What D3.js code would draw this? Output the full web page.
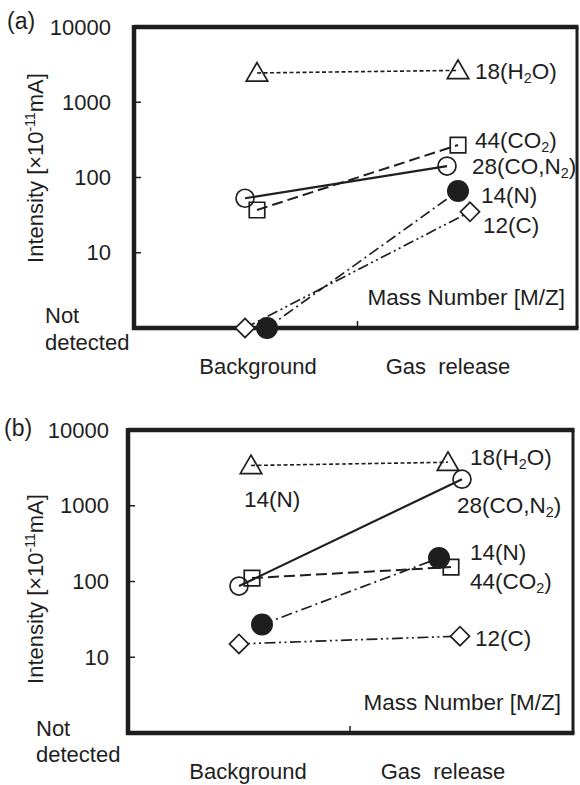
<!DOCTYPE html>
<html>
<head>
<meta charset="utf-8">
<script src="https://cdn.jsdelivr.net/npm/d3@7"></script>
<style>
  html, body { margin: 0; padding: 0; background: #fff; }
  svg { display: block; font-family: "Liberation Sans", Arial, Helvetica, sans-serif; }
  text { fill: #1e1e1e; }
</style>
</head>
<body>
<svg id="chart" width="580" height="785"></svg>
<script>
// ---------------- data ----------------
const categories = ["Background", "Gas  release"];
const yTicks = [10, 100, 1000, 10000];
const notDetected = 1; // values of 1 mean "Not detected" (bottom of the axis)

// Panel (a)
const aH2O = [2450, 2650];
const aCO  = [53, 142];
const aCO2 = [37, 270];
const aN   = [1, 66];
const aC   = [1, 35];

// Panel (b)
const bH2O = [3400, 3750];
const bCO  = [87, 2240];
const bCO2 = [111, 155];
const bN   = [27, 204];
const bC   = [15, 19];

// series order: H2O, CO/N2, CO2, N, C
const seriesLabels = [
  [["18(H", 0], ["2", 1], ["O)", 0]],
  [["28(CO,N", 0], ["2", 1], [")", 0]],
  [["44(CO", 0], ["2", 1], [")", 0]],
  [["14(N)", 0]],
  [["12(C)", 0]]
];

// ---------------- styles ----------------
const ink = "#1e1e1e";
const seriesStyle = [
  { symbol: "triangle", dash: "4,2.5", width: 1.6 },
  { symbol: "circle",   dash: null,     width: 2.2 },
  { symbol: "square",   dash: "11,5",   width: 2.0 },
  { symbol: "dot",      dash: "11,4,2,4", width: 1.7 },
  { symbol: "diamond",  dash: "11,3.5,2,3.5,2,3.5", width: 1.7 }
];

const panels = [
  {
    tag: "(a)", tagX: 7, tagY: 21,
    left: 134, right: 577, top: 27, bottom: 328,
    xRange: [257, 458],
    values: [aH2O, aCO, aCO2, aN, aC],
    nudge: [[0, 0], [-12, -11], [0, 0], [10, 0], [-12, 12]],
    labelOff: [[17, 0], [25, 0], [17, -5], [23, 4], [13, 13]],
    extra: null,
    tickLabelX: 111, titleY: 168,
    catDx: [1, -10],
    ndX: 45, ndY: [315, 342]
  },
  {
    tag: "(b)", tagX: 4, tagY: 428,
    left: 128, right: 573, top: 430, bottom: 733,
    xRange: [250, 450],
    values: [bH2O, bCO, bCO2, bN, bC],
    nudge: [[1, -2], [-11, 12], [2, 1], [12, -11], [-11, 10]],
    labelOff: [[22, -5], [-5, 26], [19, 14], [31, -6], [15, 2]],
    extra: { series: 0, cat: 0, dx: -7, dy: 33 },
    tickLabelX: 109, titleY: 589,
    catDx: [-2, -7],
    ndX: 36, ndY: [728, 754]
  }
];

const svg = d3.select("#chart");

function symbolPath(kind) {
  switch (kind) {
    case "triangle": return d3.symbol(d3.symbolTriangle, 200)();
    case "circle":   return d3.symbol(d3.symbolCircle, Math.PI * 9 * 9)();
    case "square":   return d3.symbol(d3.symbolSquare, 15.5 * 15.5)();
    case "dot":      return d3.symbol(d3.symbolCircle, Math.PI * 11 * 11)();
    case "diamond":  return d3.symbol(d3.symbolSquare, 13.5 * 13.5)();
  }
}

function addRichText(g, x, y, parts, size) {
  const t = g.append("text")
    .attr("x", x).attr("y", y)
    .attr("dy", "0.36em")
    .attr("font-size", size);
  let shifted = false;
  parts.forEach(([s, sub]) => {
    const ts = t.append("tspan").text(s);
    if (sub) { ts.attr("font-size", size * 0.64).attr("dy", 4); shifted = true; }
    else if (shifted) { ts.attr("dy", -4); shifted = false; }
  });
  return t;
}

panels.forEach(p => {
  const g = svg.append("g");
  const y = d3.scaleLog().domain([notDetected, 10000]).range([p.bottom, p.top]);
  const x = d3.scalePoint().domain(categories).range(p.xRange);

  // left axis ticks and labels
  const yAxis = d3.axisLeft(y).tickValues(yTicks).tickSize(0).tickFormat(d3.format("d"));
  const ax = g.append("g").attr("transform", `translate(${p.left},0)`).call(yAxis);
  ax.select(".domain").remove();
  ax.selectAll("text")
    .attr("x", p.tickLabelX - p.left)
    .attr("font-size", 22)
    .attr("font-family", "Liberation Sans, Arial, sans-serif")
    .attr("fill", ink);
  ax.selectAll(".tick line").remove();
  g.selectAll(".ytick").data(yTicks.filter(v => v < 10000)).enter().append("line")
    .attr("x1", p.left).attr("x2", p.left + 7)
    .attr("y1", d => y(d)).attr("y2", d => y(d))
    .attr("stroke", ink).attr("stroke-width", 1.5);

  // bottom middle tick
  const xm = (x(categories[0]) + x(categories[1])) / 2;
  g.append("line")
    .attr("x1", xm).attr("x2", xm)
    .attr("y1", p.bottom).attr("y2", p.bottom - 7)
    .attr("stroke", ink).attr("stroke-width", 1.5);

  // series lines
  const line = d3.line().x(d => d[0]).y(d => d[1]);
  p.values.forEach((vals, si) => {
    const pts = vals.map((v, ci) => [x(categories[ci]) + p.nudge[si][ci], y(v)]);
    const st = seriesStyle[si];
    g.append("path")
      .attr("d", line(pts))
      .attr("fill", "none")
      .attr("stroke", ink)
      .attr("stroke-width", st.width)
      .attr("stroke-dasharray", st.dash);
  });

  // frame
  g.append("line").attr("x1", p.left).attr("x2", p.right + 1.5).attr("y1", p.top).attr("y2", p.top)
    .attr("stroke", ink).attr("stroke-width", 4.5);
  g.append("line").attr("x1", p.left).attr("x2", p.left).attr("y1", p.top - 2).attr("y2", p.bottom + 2)
    .attr("stroke", ink).attr("stroke-width", 4.5);
  g.append("line").attr("x1", p.left - 2).attr("x2", p.right + 1.5).attr("y1", p.bottom).attr("y2", p.bottom)
    .attr("stroke", ink).attr("stroke-width", 4.5);
  g.append("line").attr("x1", p.right).attr("x2", p.right).attr("y1", p.top).attr("y2", p.bottom)
    .attr("stroke", ink).attr("stroke-width", 3);

  // markers
  p.values.forEach((vals, si) => {
    const st = seriesStyle[si];
    vals.forEach((v, ci) => {
      const cx = x(categories[ci]) + p.nudge[si][ci];
      const cy = y(v);
      g.append("path")
        .attr("d", symbolPath(st.symbol))
        .attr("transform", `translate(${cx},${cy})` + (st.symbol === "diamond" ? " rotate(45)" : "") + (st.symbol === "triangle" ? " translate(0,2)" : ""))
        .attr("fill", st.symbol === "dot" ? ink : (st.symbol === "diamond" ? "#fff" : "none"))
        .attr("stroke", ink)
        .attr("stroke-width", st.symbol === "dot" ? 0 : 1.7);
    });
  });

  // series labels at Gas release
  p.values.forEach((vals, si) => {
    const cx = x(categories[1]) + p.nudge[si][1];
    const cy = y(vals[1]);
    addRichText(g, cx + p.labelOff[si][0], cy + p.labelOff[si][1], seriesLabels[si], 22.5);
  });
  if (p.extra) {
    const e = p.extra;
    const cx = x(categories[e.cat]) + p.nudge[e.series][e.cat];
    const cy = y(p.values[e.series][e.cat]);
    addRichText(g, cx + e.dx, cy + e.dy, seriesLabels[3], 22.5);
  }

  // "Mass Number [M/Z]"
  g.append("text")
    .attr("x", p.right - 12).attr("y", p.bottom - 31).attr("dy", "0.36em")
    .attr("text-anchor", "end").attr("font-size", 22.5)
    .text("Mass Number [M/Z]");

  // category labels
  categories.forEach((c, ci) => {
    g.append("text")
      .attr("x", x(c) + p.catDx[ci]).attr("y", p.bottom + 46)
      .attr("text-anchor", "middle").attr("font-size", 22)
      .style("white-space", "pre")
      .text(c);
  });

  // Not detected
  g.append("text").attr("x", p.ndX).attr("y", p.ndY[0]).attr("dy", "0.36em")
    .attr("font-size", 22).text("Not");
  g.append("text").attr("x", p.ndX).attr("y", p.ndY[1]).attr("dy", "0.36em")
    .attr("font-size", 22).text("detected");

  // panel tag
  g.append("text").attr("x", p.tagX).attr("y", p.tagY).attr("dy", "0.36em")
    .attr("font-size", 23).text(p.tag);

  // y title
  const tt = g.append("text")
    .attr("transform", `translate(43,${p.titleY}) rotate(-90)`)
    .attr("text-anchor", "middle").attr("font-size", 22);
  tt.append("tspan").text("Intensity [×10");
  tt.append("tspan").text("-11").attr("font-size", 14).attr("dy", -8);
  tt.append("tspan").text("mA]").attr("dy", 8);
});
</script>
</body>
</html>
